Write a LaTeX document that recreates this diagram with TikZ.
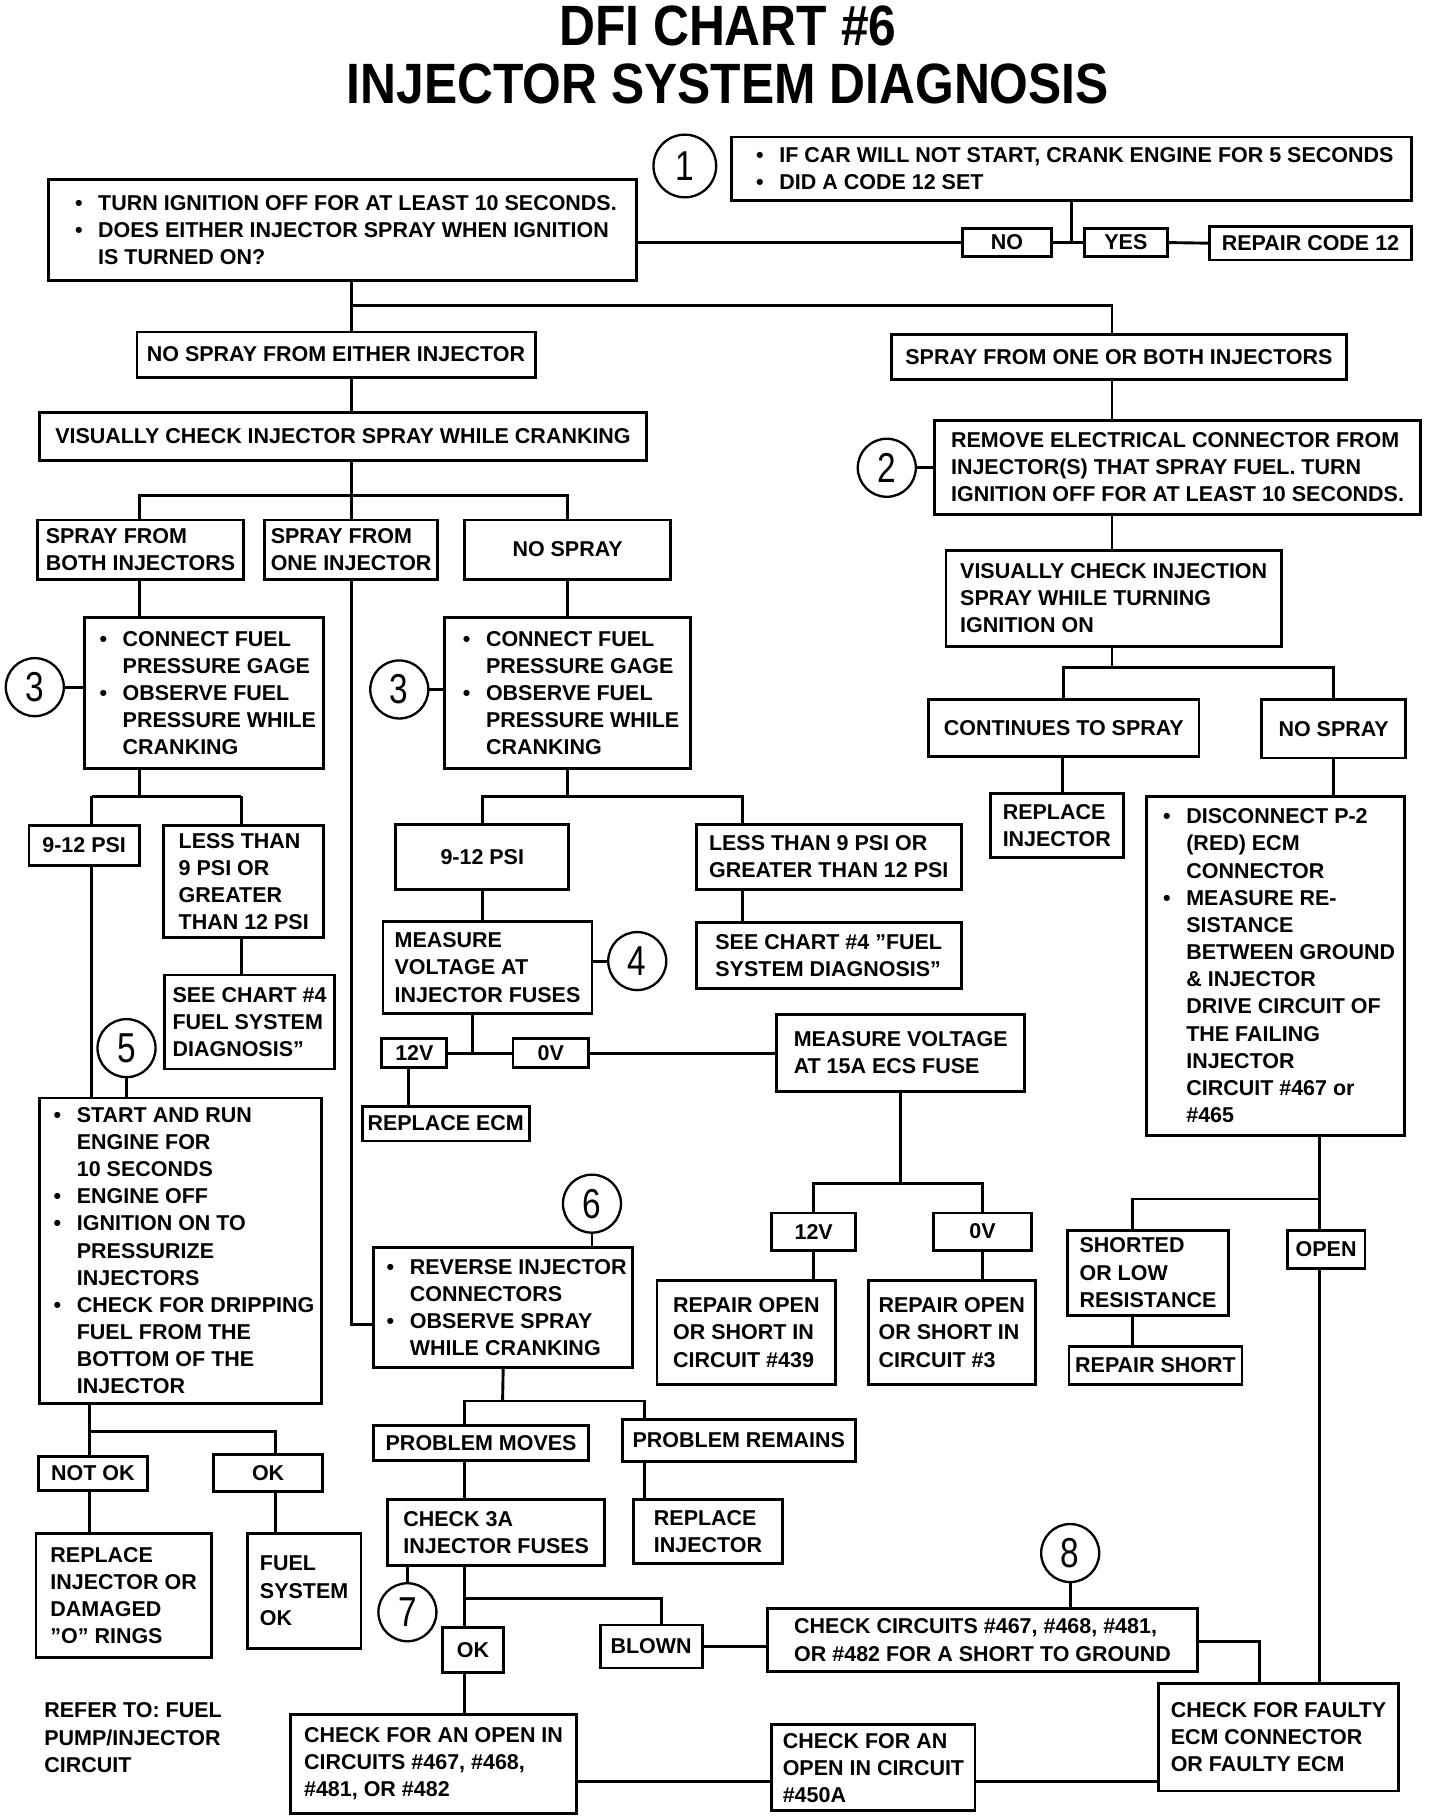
\documentclass[tikz,border=0pt]{standalone}
\usepackage{fontspec}
\setmainfont{Liberation Sans}
\newfontfamily\chartfont{Liberation Sans}[Ligatures=TeX]
\newfontfamily\titlefont{Liberation Sans}[FakeStretch=0.875]
\newfontfamily\numfont{Liberation Sans}[FakeStretch=0.8]
\usepackage{tikz}
\usetikzlibrary{positioning}
\newcommand{\bul}{\makebox[26pt][l]{\hspace{6pt}\textbullet}}
\newcommand{\ind}{\hspace*{26pt}}

\begin{document}
\begin{tikzpicture}[x=1pt,y=-1pt,
  box/.style={draw,line width=2.5pt,align=left,inner sep=0pt,font=\chartfont\bfseries\fontsize{18.5pt}{23.4pt}\selectfont},
  stepnum/.style={circle,draw,line width=2pt,minimum size=50pt,inner sep=0pt,font=\numfont\fontsize{36pt}{36pt}\selectfont},
  wire/.style={line width=2.5pt}]
\useasboundingbox (0,0) rectangle (1241,1568);

% title
\node[font=\titlefont\bfseries\fontsize{49pt}{50pt}\selectfont] (title1) at (627,22) {DFI CHART \#6};
\node[font=\titlefont\bfseries\fontsize{49pt}{50pt}\selectfont] (title2) at (627,72) {INJECTOR SYSTEM DIAGNOSIS};

% top
\node[stepnum,minimum size=54pt] (n1) at (590,143) {1};
\node[box,minimum width=586pt,minimum height=55pt] (carStart) at (923,145.5) {\bul IF CAR WILL NOT START, CRANK ENGINE FOR 5 SECONDS\\\bul DID A CODE 12 SET};
\node[box,minimum width=506pt,minimum height=87pt] (ignOff) at (295,198.5) {\bul TURN IGNITION OFF FOR AT LEAST 10 SECONDS.\\\bul DOES EITHER INJECTOR SPRAY WHEN IGNITION\\\ind IS TURNED ON?};
\node[box,minimum width=77pt,minimum height=24pt] (codeNo) at (867.5,209) {NO};
\node[box,minimum width=72pt,minimum height=24pt] (codeYes) at (970,209) {YES};
\node[box,minimum width=174pt,minimum height=29pt] (repCode) at (1129,209.5) {REPAIR CODE 12};
\node[box,minimum width=343pt,minimum height=39pt] (noSprayEither) at (289.5,305.5) {NO SPRAY FROM EITHER INJECTOR};
\node[box,minimum width=392pt,minimum height=39pt] (sprayOneBoth) at (964,307.5) {SPRAY FROM ONE OR BOTH INJECTORS};

% left branch
\node[box,minimum width=523pt,minimum height=42pt] (visCrank) at (295.5,376) {VISUALLY CHECK INJECTOR SPRAY WHILE CRANKING};
\node[box,minimum width=178pt,minimum height=51pt] (sprayBoth) at (121,473.5) {SPRAY FROM\\BOTH INJECTORS};
\node[box,minimum width=149pt,minimum height=51pt] (sprayOne) at (302.5,473.5) {SPRAY FROM\\ONE INJECTOR};
\node[box,minimum width=178pt,minimum height=51pt] (noSprayMid) at (489,473.5) {NO SPRAY};
\node[stepnum] (n3a) at (30,592) {3};
\node[box,minimum width=206pt,minimum height=130pt] (gageLeft) at (176,597) {\bul CONNECT FUEL\\\ind PRESSURE GAGE\\\bul OBSERVE FUEL\\\ind PRESSURE WHILE\\\ind CRANKING};
\node[stepnum] (n3b) at (344,594) {3};
\node[box,minimum width=212pt,minimum height=130pt] (gageMid) at (489,597) {\bul CONNECT FUEL\\\ind PRESSURE GAGE\\\bul OBSERVE FUEL\\\ind PRESSURE WHILE\\\ind CRANKING};
\node[box,minimum width=95pt,minimum height=35pt] (psiLeft) at (72.5,728.5) {9-12 PSI};
\node[box,minimum width=138pt,minimum height=97pt] (lessLeft) at (210,759.5) {LESS THAN\\9 PSI OR\\GREATER\\THAN 12 PSI};
\node[box,minimum width=146pt,minimum height=81pt] (chartLeft) at (215,880.5) {SEE CHART \#4\\FUEL SYSTEM\\DIAGNOSIS''};
\node[stepnum] (n5) at (109,903) {5};
\node[box,minimum width=243pt,minimum height=263pt] (startRun) at (155.5,1077.5) {\bul START AND RUN\\\ind ENGINE FOR\\\ind 10 SECONDS\\\bul ENGINE OFF\\\bul IGNITION ON TO\\\ind PRESSURIZE\\\ind INJECTORS\\\bul CHECK FOR DRIPPING\\\ind FUEL FROM THE\\\ind BOTTOM OF THE\\\ind INJECTOR};
\node[box,minimum width=94pt,minimum height=29pt] (notOk) at (80,1269.5) {NOT OK};
\node[box,minimum width=94pt,minimum height=32pt] (dripOk) at (231,1269) {OK};
\node[box,minimum width=151pt,minimum height=107pt] (repRings) at (106.5,1374.5) {REPLACE\\INJECTOR OR\\DAMAGED\\''O'' RINGS};
\node[box,minimum width=98pt,minimum height=99pt] (fuelOk) at (262,1370.5) {FUEL\\SYSTEM\\OK};
\node[box,draw=none,anchor=west] (refer) at (37,1497) {REFER TO: FUEL\\PUMP/INJECTOR\\CIRCUIT};

% middle branch
\node[box,minimum width=149pt,minimum height=56pt] (psiMid) at (415.5,738) {9-12 PSI};
\node[box,minimum width=228pt,minimum height=56pt] (lessMid) at (714,738) {LESS THAN 9 PSI OR\\GREATER THAN 12 PSI};
\node[box,minimum width=180pt,minimum height=79pt] (measInj) at (420,833.5) {MEASURE\\VOLTAGE AT\\INJECTOR FUSES};
\node[stepnum] (n4) at (549,828) {4};
\node[box,minimum width=228pt,minimum height=57pt] (chartMid) at (714,823.5) {SEE CHART \#4 ''FUEL\\SYSTEM DIAGNOSIS''};
\node[box,minimum width=56pt,minimum height=25pt] (fuse12) at (357,907.5) {12V};
\node[box,minimum width=65pt,minimum height=25pt] (fuse0) at (474.5,907.5) {0V};
\node[box,minimum width=144pt,minimum height=30pt] (repEcm) at (384,968) {REPLACE ECM};
\node[box,minimum width=214pt,minimum height=66pt] (meas15) at (776,907) {MEASURE VOLTAGE\\AT 15A ECS FUSE};
\node[box,minimum width=72pt,minimum height=32pt] (ecs12) at (701,1061) {12V};
\node[box,minimum width=85pt,minimum height=32pt] (ecs0) at (846.5,1061) {0V};
\node[box,minimum width=154pt,minimum height=90pt] (rep439) at (643,1148) {REPAIR OPEN\\OR SHORT IN\\CIRCUIT \#439};
\node[box,minimum width=144pt,minimum height=90pt] (rep3) at (820,1148) {REPAIR OPEN\\OR SHORT IN\\CIRCUIT \#3};

% right branch
\node[stepnum] (n2) at (764,403) {2};
\node[box,minimum width=419pt,minimum height=81pt] (removeConn) at (1014.5,402.5) {REMOVE ELECTRICAL CONNECTOR FROM\\INJECTOR(S) THAT SPRAY FUEL. TURN\\IGNITION OFF FOR AT LEAST 10 SECONDS.};
\node[box,minimum width=289pt,minimum height=83pt] (visIgn) at (959.5,515.5) {VISUALLY CHECK INJECTION\\SPRAY WHILE TURNING\\IGNITION ON};
\node[box,minimum width=233pt,minimum height=49pt] (contSpray) at (916.5,627.5) {CONTINUES TO SPRAY};
\node[box,minimum width=124pt,minimum height=50pt] (noSprayRight) at (1149,628) {NO SPRAY};
\node[box,minimum width=115pt,minimum height=55pt] (repInjRight) at (910.5,711.5) {REPLACE\\INJECTOR};
\node[box,minimum width=222pt,minimum height=292pt] (discP2) at (1099,832) {\bul DISCONNECT P-2\\\ind (RED) ECM\\\ind CONNECTOR\\\bul MEASURE RE-\\\ind SISTANCE\\\ind BETWEEN GROUND\\\ind \& INJECTOR\\\ind DRIVE CIRCUIT OF\\\ind THE FAILING\\\ind INJECTOR\\\ind CIRCUIT \#467 or\\\ind \#465};
\node[box,minimum width=138pt,minimum height=73pt] (shortLow) at (989,1096.5) {SHORTED\\OR LOW\\RESISTANCE};
\node[box,minimum width=67pt,minimum height=33pt] (openRes) at (1142.5,1076.5) {OPEN};
\node[box,minimum width=149pt,minimum height=33pt] (repShort) at (995.5,1176.5) {REPAIR SHORT};
\node[box,minimum width=207pt,minimum height=93pt] (faultyEcm) at (1101.5,1496.5) {CHECK FOR FAULTY\\ECM CONNECTOR\\OR FAULTY ECM};

% bottom
\node[stepnum] (n6) at (510,1037) {6};
\node[box,minimum width=223pt,minimum height=103pt] (reverseConn) at (433.5,1126.5) {\bul REVERSE INJECTOR\\\ind CONNECTORS\\\bul OBSERVE SPRAY\\\ind WHILE CRANKING};
\node[box,minimum width=185pt,minimum height=30pt] (probMoves) at (414.5,1243) {PROBLEM MOVES};
\node[box,minimum width=201pt,minimum height=36pt] (probRemains) at (636.5,1241) {PROBLEM REMAINS};
\node[box,minimum width=187pt,minimum height=57pt] (check3a) at (427.5,1320.5) {CHECK 3A\\INJECTOR FUSES};
\node[box,minimum width=128pt,minimum height=55pt] (repInjBottom) at (610,1319.5) {REPLACE\\INJECTOR};
\node[stepnum] (n7) at (351,1389) {7};
\node[box,minimum width=53pt,minimum height=39pt] (fuseOk) at (407.5,1421.5) {OK};
\node[box,minimum width=88pt,minimum height=37pt] (fuseBlown) at (561,1418.5) {BLOWN};
\node[box,minimum width=371pt,minimum height=54pt] (chkShort) at (846.5,1413) {CHECK CIRCUITS \#467, \#468, \#481,\\OR \#482 FOR A SHORT TO GROUND};
\node[stepnum] (n8) at (922,1338) {8};
\node[box,minimum width=247pt,minimum height=85pt] (chkOpen) at (373.5,1519.5) {CHECK FOR AN OPEN IN\\CIRCUITS \#467, \#468,\\\#481, OR \#482};
\node[box,minimum width=175pt,minimum height=74pt] (chkOpen450) at (752.5,1523) {CHECK FOR AN\\OPEN IN CIRCUIT\\\#450A};

% junction points
\coordinate (trunk) at (303,263);
\coordinate (trunkR) at (958,263);
\coordinate (busVis) at (303,427);
\coordinate (busGage) at (120,686);
\coordinate (busGageL) at (79,686);
\coordinate (busGageR) at (208,686);
\coordinate (busMid) at (489,686);
\coordinate (busMidR) at (640,686);
\coordinate (jFuse) at (407,907.5);
\coordinate (bus15) at (776,1020);
\coordinate (busIgn) at (958,575);
\coordinate (busDisc) at (1137,1033);
\coordinate (busDiscL) at (976,1033);
\coordinate (busStartL) at (77,1233);
\coordinate (busStartR) at (237,1233);
\coordinate (turnRev) at (322,1141);
\coordinate (busRev) at (433,1207);
\coordinate (busRevL) at (400,1207);
\coordinate (busRevR) at (555,1207);
\coordinate (bus3a) at (400,1377);
\coordinate (bus3aR) at (570,1377);
\coordinate (k8) at (1085,1414);
\coordinate (k9) at (600,1535);

% connectors
\draw[wire] (carStart.south) -- (carStart.south |- codeNo.east);
\draw[wire] (ignOff.east |- codeNo.west) -- (codeNo.west);
\draw[wire] (codeNo.east) -- (codeYes.west);
\draw[wire] (codeYes.east) -- (repCode.west);
\draw[wire] (trunk |- ignOff.south) -- (trunk) -- (trunkR) -- (trunkR |- sprayOneBoth.north);
\draw[wire] (trunk) -- (trunk |- noSprayEither.north);
\draw[wire] (trunk |- noSprayEither.south) -- (trunk |- visCrank.north);
\draw[wire] (busVis |- visCrank.south) -- (busVis) -- (busVis |- sprayOne.north);
\draw[wire] (busGage |- sprayBoth.north) |- (busVis) -| (noSprayMid.north);
\draw[wire] (busGage |- sprayBoth.south) -- (busGage |- gageLeft.north);
\draw[wire] (n3a) -- (gageLeft.west |- n3a);
\draw[wire] (busGage |- gageLeft.south) -- (busGage);
\draw[wire] (busGageL) -- (busGageR);
\draw[wire] (busGageL) -- (busGageL |- psiLeft.north);
\draw[wire] (busGageR) -- (busGageR |- lessLeft.north);
\draw[wire] (busGageR |- lessLeft.south) -- (busGageR |- chartLeft.north);
\draw[wire] (busGageL |- psiLeft.south) -- (busGageL |- startRun.north);
\draw[wire] (n5) -- (n5 |- startRun.north);
\draw[wire] (busStartL |- startRun.south) -- (busStartL) -- (busStartR) -- (busStartR |- dripOk.north);
\draw[wire] (busStartL) -- (busStartL |- notOk.north);
\draw[wire] (busStartL |- notOk.south) -- (busStartL |- repRings.north);
\draw[wire] (busStartR |- dripOk.south) -- (busStartR |- fuelOk.north);
\draw[wire] (sprayOne.south) |- (turnRev);
\draw[wire] (noSprayMid.south) -- (gageMid.north);
\draw[wire] (n3b) -- (gageMid.west |- n3b);
\draw[wire] (gageMid.south) -- (busMid);
\draw[wire] (psiMid.north) |- (busMidR) -- (busMidR |- lessMid.north);
\draw[wire] (busMidR |- lessMid.south) -- (busMidR |- chartMid.north);
\draw[wire] (psiMid.south) -- (psiMid.south |- measInj.north);
\draw[wire] (measInj.east |- n4) -- (n4);
\draw[wire] (jFuse |- measInj.south) -- (jFuse);
\draw[wire] (fuse12.east) -- (fuse0.west);
\draw[wire] (fuse0.east) -- (fuse0.east -| meas15.west);
\draw[wire] (fuse12.south -| 352,0) -- (repEcm.north -| 352,0);
\draw[wire] (meas15.south) -- (bus15);
\draw[wire] (ecs12.north) |- (bus15) -| (ecs0.north);
\draw[wire] (ecs12.south) -- (ecs12.south |- rep439.north);
\draw[wire] (ecs0.south) -- (ecs0.south |- rep3.north);
\draw[wire] (trunkR |- sprayOneBoth.south) -- (trunkR |- removeConn.north);
\draw[wire] (n2) -- (removeConn.west |- n2);
\draw[wire] (trunkR |- removeConn.south) -- (trunkR |- visIgn.north);
\draw[wire] (busIgn |- visIgn.south) -- (busIgn);
\draw[wire] (contSpray.north) |- (busIgn) -| (noSprayRight.north);
\draw[wire] (contSpray.south -| 915,0) -- (repInjRight.north -| 915,0);
\draw[wire] (noSprayRight.south) -- (noSprayRight.south |- discP2.north);
\draw[wire] (busDisc |- discP2.south) -- (busDisc) -- (busDisc |- openRes.north);
\draw[wire] (busDisc) -- (busDiscL) -- (busDiscL |- shortLow.north);
\draw[wire] (busDiscL |- shortLow.south) -- (busDiscL |- repShort.north);
\draw[wire] (busDisc |- openRes.south) -- (busDisc |- faultyEcm.north);
\draw[wire] (n6) -- (n6 |- reverseConn.north);
\draw[wire] (reverseConn.south) -- (busRev);
\draw[wire] (busRevL |- probMoves.north) -- (busRevL) -- (busRevR) -- (busRevR |- probRemains.north);
\draw[wire] (busRevL |- probMoves.south) -- (busRevL |- check3a.north);
\draw[wire] (busRevR |- probRemains.south) -- (busRevR |- repInjBottom.north);
\draw[wire] (n7) -- (n7 |- check3a.south);
\draw[wire] (bus3a |- check3a.south) -- (bus3a |- fuseOk.north);
\draw[wire] (bus3a) -- (bus3aR) -- (bus3aR |- fuseBlown.north);
\draw[wire] (bus3a |- fuseOk.south) -- (bus3a |- chkOpen.north);
\draw[wire] (fuseBlown.east) -- (fuseBlown.east -| chkShort.west);
\draw[wire] (n8) -- (n8 |- chkShort.north);
\draw[wire] (chkShort.east |- k8) -- (k8) -- (k8 |- faultyEcm.north);
\draw[wire] (chkOpen.east |- k9) -- (k9 -| chkOpen450.west);
\draw[wire] (chkOpen450.east |- k9) -- (k9 -| faultyEcm.west);
\end{tikzpicture}
\end{document}
